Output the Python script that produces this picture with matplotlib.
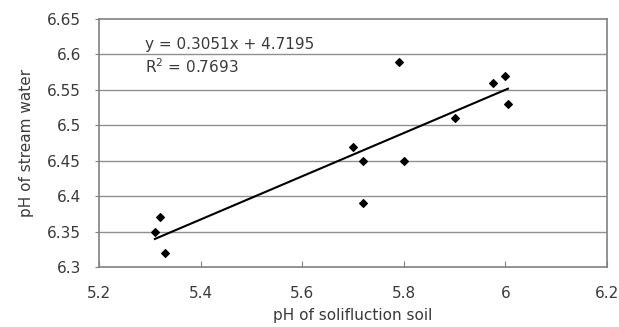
import matplotlib
matplotlib.use("Agg")
import matplotlib.pyplot as plt
import numpy as np

plt.rcParams['font.family'] = ['DejaVu Sans']

soil_ph = [5.31, 5.32, 5.33, 5.70, 5.72, 5.72, 5.79, 5.80, 5.90, 5.975, 6.00, 6.005]
water_ph = [6.35, 6.37, 6.32, 6.47, 6.45, 6.39, 6.59, 6.45, 6.51, 6.56, 6.57, 6.53]
slope, intercept = 0.3051, 4.7195
x_ticks = [5.2, 5.4, 5.6, 5.8, 6.0, 6.2]
x_labels = ["5.2", "5.4", "5.6", "5.8", "6", "6.2"]
y_ticks = [6.3, 6.35, 6.4, 6.45, 6.5, 6.55, 6.6, 6.65]
y_labels = ["6.3", "6.35", "6.4", "6.45", "6.5", "6.55", "6.6", "6.65"]

FS = 11
TC = '#3a3a3a'

fig = plt.figure(figsize=(6.19, 3.27), dpi=100)
ax = fig.add_axes([99/619, 1-267/327, (607-99)/619, (267-19)/327])

ax.set_xlim(5.2, 6.2)
ax.set_ylim(6.3, 6.65)
for y in y_ticks[1:-1]:
    ax.axhline(y, color='#909090', lw=1.0, zorder=1)

ax.scatter(soil_ph, water_ph, marker='D', s=15, color='black', zorder=3)
xs = np.array([min(soil_ph), max(soil_ph)])
ax.plot(xs, slope*xs + intercept, color='black', lw=1.5, zorder=2)

ax.set_xticks(x_ticks)
ax.set_xticklabels(x_labels)
ax.set_yticks(y_ticks)
ax.set_yticklabels(y_labels)
ax.tick_params(axis='x', direction='in', length=4, color='#808080', labelsize=FS, pad=14, labelcolor=TC)
ax.tick_params(axis='y', direction='out', length=3, color='#808080', labelsize=FS, pad=10, labelcolor=TC)
for s in ax.spines.values():
    s.set_color('#808080')
    s.set_linewidth(1.2)

ax.set_xlabel('pH of solifluction soil', fontsize=FS, color=TC, labelpad=5)
ax.set_ylabel('pH of stream water', fontsize=FS, color=TC, labelpad=9)

fig.text(145/619, 1-45/327, 'y = 0.3051x + 4.7195', fontsize=FS, color=TC, va='center')
fig.text(145/619, 1-67/327, 'R$^2$ = 0.7693', fontsize=FS, color=TC, va='center')

fig.savefig('out.png', dpi=100)
